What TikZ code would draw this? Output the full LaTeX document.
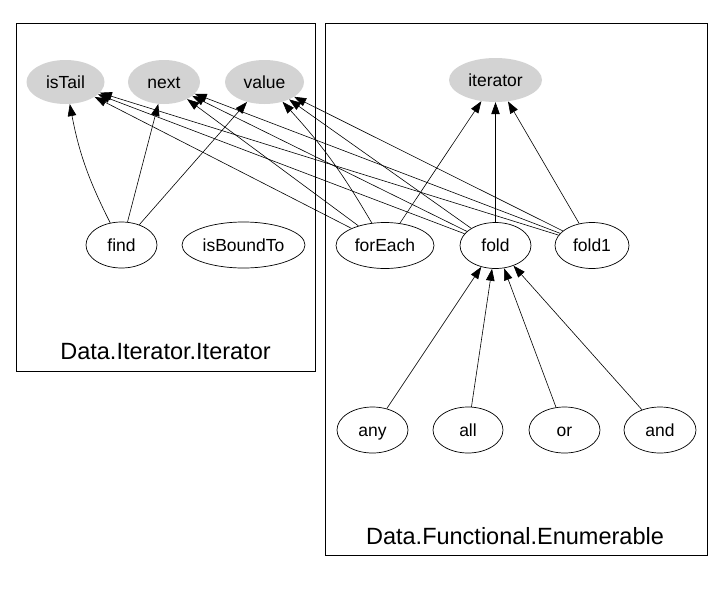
\documentclass[tikz,border=0pt]{standalone}
\usepackage{fontspec}
\setmainfont{Liberation Sans}
\usetikzlibrary{shapes.geometric,arrows.meta}
\begin{document}
\begin{tikzpicture}[x=1pt,y=-1pt,
  fn/.style={ellipse,draw,line width=0.7pt,inner sep=0pt,minimum height=46pt,text height=12.6pt,text depth=0pt,font=\fontsize{17.5}{20}\selectfont},
  ext/.style={ellipse,fill={rgb,255:red,211;green,211;blue,211},draw=none,inner sep=0pt,minimum height=44pt,text height=12.6pt,text depth=0pt,font=\fontsize{17.5}{20}\selectfont},
  cluster/.style={draw,line width=0.8pt},
  clabel/.style={font=\fontsize{23.5}{26}\selectfont,inner sep=0pt},
  dep/.style={line width=0.6pt,-{Triangle[length=12pt,width=8.5pt]}}]
\useasboundingbox (0,0) rectangle (722,589);
\fill[white] (0,0) rectangle (722,589);
% clusters
\draw[cluster] (16,23) rectangle (315,371);
\draw[cluster] (325,23) rectangle (707,555);
\node[clabel] (lab1) at (165.5,352) {Data.Iterator.Iterator};
\node[clabel] (lab2) at (515,536) {Data.Functional.Enumerable};
% external nodes
\node[ext,minimum width=78pt] (isTail) at (65.5,82) {isTail};
\node[ext,minimum width=72pt] (next) at (164,82) {next};
\node[ext,minimum width=79pt] (value) at (264.5,82) {value};
\node[ext,minimum width=93pt] (iterator) at (495.5,80) {iterator};
% functions
\node[fn,minimum width=71pt] (find) at (121.5,245) {find};
\node[fn,minimum width=123pt] (isBoundTo) at (243.5,245) {isBoundTo};
\node[fn,minimum width=98pt] (forEach) at (385,245.5) {forEach};
\node[fn,minimum width=71pt] (fold) at (495.5,245.5) {fold};
\node[fn,minimum width=74pt] (fold1) at (592,245.5) {fold1};
\node[fn,minimum width=71pt] (any) at (372.5,430) {any};
\node[fn,minimum width=70pt] (all) at (468,430) {all};
\node[fn,minimum width=71pt] (or) at (564.5,430) {or};
\node[fn,minimum width=72pt] (and) at (660,430) {and};
% edges
\draw[dep] (find) to[bend left=8] (isTail);
\draw[dep] (find) -- (next);
\draw[dep] (find) -- (value);
\draw[dep] (forEach) -- (isTail);
\draw[dep] (forEach) -- (next);
\draw[dep] (forEach) to[bend right=6] (value);
\draw[dep] (forEach) -- (iterator);
\draw[dep] (fold) -- (isTail);
\draw[dep] (fold) -- (next);
\draw[dep] (fold) -- (value);
\draw[dep] (fold) -- (iterator);
\draw[dep] (fold1) -- (isTail);
\draw[dep] (fold1) -- (next);
\draw[dep] (fold1) -- (value);
\draw[dep] (fold1) -- (iterator);
\draw[dep] (any) -- (fold);
\draw[dep] (all) -- (fold);
\draw[dep] (or) -- (fold);
\draw[dep] (and) -- (fold);
\end{tikzpicture}
\end{document}
